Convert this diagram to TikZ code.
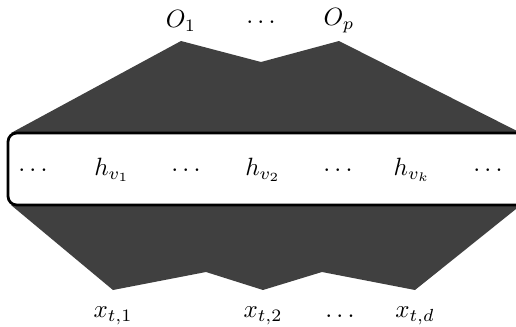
\documentclass[tikz,border=0pt]{standalone}
\begin{document}
\begin{tikzpicture}[x=0.4pt,y=-0.4pt,
  wedge/.style={fill=black!75,draw=none},
  layer/.style={draw=black,line width=1.1pt,fill=white,rounded corners=3.5pt},
  lbl/.style={inner sep=0pt,anchor=center}]
\useasboundingbox (0,0) rectangle (516,327);
\clip (0,0) rectangle (516,327);
% top wedge
\coordinate (tl) at (11,133);
\coordinate (o1) at (181,41);
\coordinate (td) at (261,62);
\coordinate (op) at (339,41);
\coordinate (tr) at (521,133);
\fill[wedge] (tl) -- (o1) -- (td) -- (op) -- (tr) -- cycle;
% bottom wedge
\coordinate (bl) at (11,205);
\coordinate (x1) at (113,290);
\coordinate (bp1) at (206,272);
\coordinate (x2) at (263,290);
\coordinate (bp2) at (322,272);
\coordinate (xd) at (415,290);
\coordinate (br) at (521,205);
\fill[wedge] (bl) -- (x1) -- (bp1) -- (x2) -- (bp2) -- (xd) -- (br) -- cycle;
% hidden layer box
\draw[layer] (8,133) rectangle (540,205);
% labels
\node[lbl] (O1) at (181,21) {$O_1$};
\node[lbl] (Od) at (261,22) {$\dots$};
\node[lbl] (Op) at (339,21) {$O_p$};
\node[lbl] (h0) at (33,170) {$\dots$};
\node[lbl] (h1) at (112,170) {$h_{v_1}$};
\node[lbl] (hd1) at (186,170) {$\dots$};
\node[lbl] (h2) at (263,170) {$h_{v_2}$};
\node[lbl] (hd2) at (338,170) {$\dots$};
\node[lbl] (hk) at (412,170) {$h_{v_k}$};
\node[lbl] (hd3) at (488,170) {$\dots$};
\node[lbl] (X1) at (113,316) {$x_{t,1}$};
\node[lbl] (X2) at (263,316) {$x_{t,2}$};
\node[lbl] (Xd) at (340,316) {$\dots$};
\node[lbl] (XD) at (415,316) {$x_{t,d}$};
\end{tikzpicture}
\end{document}
